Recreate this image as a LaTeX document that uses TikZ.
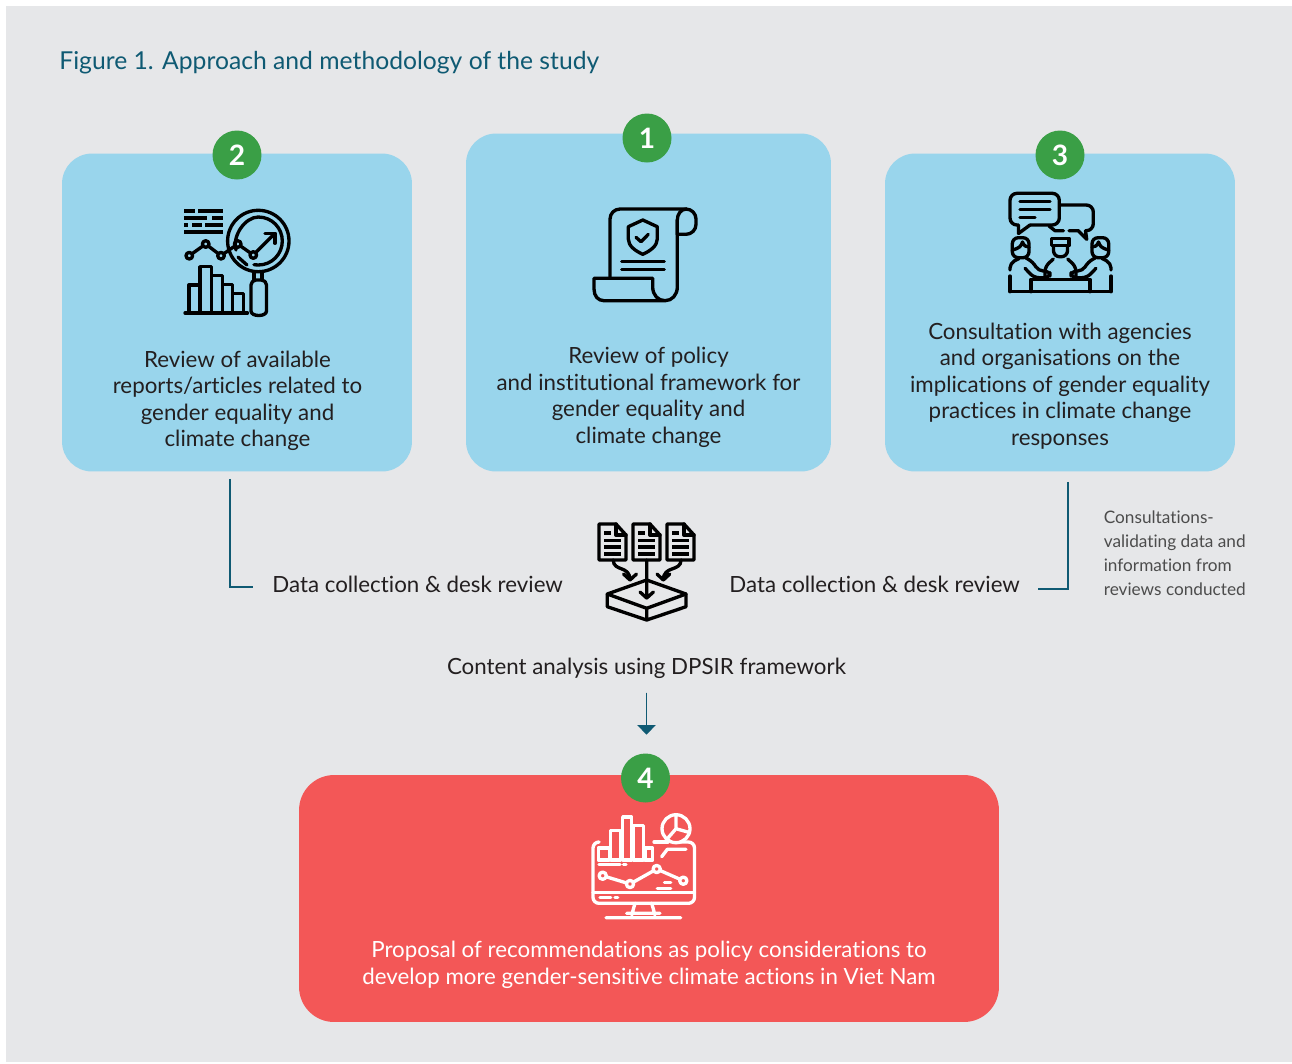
\documentclass[tikz,border=0pt]{standalone}
\usepackage{fontspec}
\setmainfont{Lato}[Ligatures=NoCommon]
\usetikzlibrary{positioning, arrows.meta, calc}
\definecolor{pagegray}{HTML}{E6E7E9}
\definecolor{cardblue}{HTML}{99D5EC}
\definecolor{cardred}{HTML}{F35757}
\definecolor{badgegreen}{HTML}{3A9F46}
\definecolor{teal}{HTML}{0F5A73}
\definecolor{bodytext}{HTML}{231F20}
\tikzset{
    bluecard/.style={fill=cardblue, rounded corners=0.6cm, minimum width=7cm, minimum height=6.36cm, inner sep=0pt},
    badge/.style={circle, fill=badgegreen, minimum size=0.98cm, inner sep=0pt, text=white, font=\fontsize{16}{18}\selectfont\bfseries},
    cardtext/.style={align=center, text=bodytext, font=\fontsize{12.7}{15.1}\selectfont},
    flowtext/.style={text=bodytext, font=\fontsize{12.7}{15.1}\selectfont, inner sep=0pt},
    flowline/.style={draw=teal, line width=0.6pt},
    iconline/.style={line width=1.9pt, line join=round, line cap=round},
}
\begin{document}
\begin{tikzpicture}[x=0.02cm, y=-0.02cm]
    \useasboundingbox (0,0) rectangle (1292,1063);
    \fill [pagegray] (6,6) rectangle (1292,1062);
    \node (title) [anchor=west, inner sep=0pt, text=teal, font=\fontsize{14.05}{17}\selectfont] at (59,63) {Figure 1. Approach and methodology of the study};

    % cards
    \node (card2) [bluecard] at (237,312.5) {};
    \node (card1) [bluecard, minimum width=7.3cm, minimum height=6.76cm] at (648.5,302.5) {};
    \node (card3) [bluecard] at (1060,312.5) {};
    \node (card4) [fill=cardred, rounded corners=0.7cm, minimum width=14cm, minimum height=4.94cm, inner sep=0pt] at (649,898.5) {};

    \node (badge2) [badge] at (237,155) {2};
    \node (badge1) [badge] at (647,138) {1};
    \node (badge3) [badge] at (1060,155) {3};
    \node (badge4) [badge] at (645.5,778) {4};

    \node (text2) [cardtext] at (237.5,401) {Review of available\\reports/articles related to\\gender equality and\\climate change};
    \node (text1) [cardtext] at (648.5,397.5) {Review of policy\\and institutional framework for\\gender equality and\\climate change};
    \node (text3) [cardtext] at (1060,386) {Consultation with agencies\\and organisations on the\\implications of gender equality\\practices in climate change\\responses};
    \node (text4) [cardtext, text=white] at (649,965) {Proposal of recommendations as policy considerations to\\develop more gender-sensitive climate actions in Viet Nam};

    % middle row
    \node (leftlabel) [flowtext, anchor=west] at (272,584) {Data collection \& desk review};
    \node (rightlabel) [flowtext, anchor=west] at (729,584) {Data collection \& desk review};
    \node (sidenote) [anchor=west, align=left, inner sep=0pt, text=black!70, font=\fontsize{9.8}{13.6}\selectfont] at (1103.5,553) {Consultations-\\validating data and\\information from\\reviews conducted};
    \node (analysis) [flowtext] at (646.5,668) {Content analysis using DPSIR framework};

    \draw [flowline] ([xshift=-0.14cm, yshift=-0.14cm]card2.south) |- ([xshift=-0.38cm, yshift=-0.06cm]leftlabel.west);
    \draw [flowline] ([xshift=0.16cm, yshift=-0.2cm]card3.south) |- ([xshift=0.36cm, yshift=-0.1cm]rightlabel.east);
    \draw [flowline, -{Triangle[length=5.5pt, width=10.5pt]}, fill=teal] ([yshift=-0.28cm]analysis.south) -- ([yshift=0.37cm]analysis.south |- badge4.north);

    % icon of card 2
    \foreach \xa/\xb/\ya in {184/195/211, 198/223/211, 184/207/218, 212/223/218, 184/188/225, 192/202/225, 205/223/225, 184/223/232}
        \draw [line width=1.9pt] (\xa,\ya) -- (\xb,\ya);
    \draw [iconline] (189.3,255.7) -- (205.7,244) -- (221,255.7) -- (237.7,244) -- (253.3,255) -- (275,233.3);
    \draw [iconline] (265,233.3) -- (275,233.3) -- (275,243.3);
    \foreach \xa/\ya in {189.3/255.7, 205.7/244, 221/255.7, 237.7/244, 253.3/255}
        \filldraw [iconline, fill=cardblue] (\xa,\ya) circle [radius=3.3];
    \draw [iconline] (258.3,241) circle [radius=30.7];
    \draw [iconline] (236,250) .. controls (232,236) and (245,217) .. (258.3,217) .. controls (272,217) and (282.3,228) .. (282.3,241) .. controls (282.3,254) and (272,265) .. (258.3,265) -- (254,264.7);
    \draw [iconline] (247,265) -- (238,257);
    \draw [iconline] (254,272) -- (254,280) (262,272) -- (262,280);
    \draw [iconline, rounded corners=0.1cm] (251,280) -- (266.5,280) -- (266.5,306) .. controls (266.5,317) and (251,317) .. (251,306) -- cycle;
    \foreach \xa/\xb/\ya in {189/200/285, 200/211.7/266.7, 211.7/222.3/275.7, 222.3/232.7/284.3, 232.7/243.3/293.3}
        \draw [iconline] (\xa,313) rectangle (\xb,\ya);
    \draw [iconline] (185,313) -- (247.5,313);

    % icon of card 1
    \draw [iconline, rounded corners=0.2cm] (610,277.7) -- (610,209) -- (696,209) -- (696,234.3) -- (677.3,234.3);
    \draw [iconline] (677.3,234.3) -- (677.3,220) .. controls (677.3,214) and (681,209) .. (686.7,209);
    \draw [iconline] (677.3,220) -- (677.3,287) .. controls (677.3,295) and (672,300.7) .. (665,300.7) .. controls (658,300.7) and (652.7,295) .. (652.7,287) -- (652.7,278.3) -- (594,278.3) -- (594,289) .. controls (594,296) and (598,300.7) .. (604,300.7) -- (665,300.7);
    \draw [iconline] (642.8,220) -- (657.3,226.7) -- (657.3,239) .. controls (657.3,246) and (650,251) .. (642.8,254.3) .. controls (635.5,251) and (628.3,246) .. (628.3,239) -- (628.3,226.7) -- cycle;
    \draw [iconline] (636,237.3) -- (641,241.7) -- (648.3,234.3);
    \draw [iconline] (621.7,261.7) -- (664.3,261.7) (621.7,269.7) -- (664.3,269.7);

    % icon of card 3
    \draw [iconline, rounded corners=0.14cm] (1018,225) -- (1010,225) -- (1010,193.3) -- (1059.3,193.3) -- (1059.3,225) -- (1030,225);
    \draw [iconline] (1030,225) -- (1018.5,233.5) -- (1018.5,225);
    \draw [iconline] (1020,201.7) -- (1050,201.7) (1020,209.3) -- (1050,209.3) (1020,217.3) -- (1035,217.3);
    \draw [iconline, rounded corners=0.14cm] (1060,205) -- (1093.3,205) -- (1093.3,230.7) -- (1085.5,230.7);
    \draw [iconline] (1085.5,230.7) -- (1086.7,239.3) -- (1078.3,230.7) -- (1069,230.7) (1063.5,230.7) -- (1055,230.7) -- (1049,226);
    % the two outer people are mirror images
    \foreach \sx/\dx in {1/0, -1/2121} {
        \begin{scope}[shift={(\dx,0)}, xscale=\sx]
        \draw [iconline, rounded corners=0.12cm] (1024,257.7) -- (1029,257.7) -- (1029,237.7) -- (1012.3,237.7) -- (1012.3,257.7) -- (1024,257.7);
        \draw [iconline] (1012.3,250) .. controls (1020,248) and (1021,246) .. (1022.5,242) .. controls (1024,246) and (1026,247) .. (1029,247);
        \draw [iconline, rounded corners=0.1cm] (1010,270) -- (1010,263) -- (1019,258.5);
        \draw [iconline, rounded corners=0.1cm] (1026,258) -- (1033,262) -- (1038.3,271) -- (1050,271) -- (1050,277.7) -- (1034,277.7) -- (1025,268.3);
        \draw [iconline, rounded corners=0.1cm] (1045,276) -- (1045,266.7) -- (1053.3,259);
        \draw [iconline] (1010,276) -- (1010,291.7);
        \end{scope}
    }
    \draw [iconline] (1051.7,245.7) -- (1051.7,238.3) -- (1069,238.3) -- (1069,245.7) -- cycle;
    \draw [iconline, rounded corners=0.12cm] (1053.5,246) -- (1053.5,256.7) -- (1067.5,256.7) -- (1067.5,246);
    \draw [iconline] (1010,291.7) -- (1111,291.7) (1031,291.7) -- (1031,279.3) -- (1090,279.3) -- (1090,291.7);

    % icon of the middle row
    \foreach \xa in {599,633,667} {
        \draw [iconline] (\xa,524) -- (\xa+17,524) -- (\xa+27,535) -- (\xa+27,560) -- (\xa,560) -- cycle;
        \draw [iconline] (\xa+17,524) -- (\xa+17,535) -- (\xa+27,535);
        \draw [line width=1.9pt] (\xa+5,533) -- (\xa+12,533) (\xa+5,540.5) -- (\xa+22,540.5) (\xa+5,547) -- (\xa+22,547) (\xa+5,554) -- (\xa+22,554);
    }
    \draw [iconline] (646.7,560) -- (646.7,598) (640,592) -- (646.7,598) -- (653.4,592);
    \draw [iconline] (613.3,560) .. controls (613.3,572) and (630,565) .. (630,580) (623.5,574) -- (630,580) -- (636.5,574);
    \draw [iconline] (681,560) .. controls (681,572) and (663.3,565) .. (663.3,580) (657,574) -- (663.3,580) -- (669.8,574);
    \draw [iconline] (607.3,594) -- (646.7,580) -- (686,594) -- (646.7,608.3) -- cycle;
    \draw [iconline] (607.3,594) -- (607.3,606.7) -- (646.7,620) -- (686,606.7) -- (686,594) (646.7,608.3) -- (646.7,620);

    % icon of card 4
    \begin{scope}[white]
    \draw [iconline, rounded corners=0.12cm] (598,842) -- (593,842) -- (593,903.3) -- (694.5,903.3) -- (694.5,842) -- (680,842);
    \draw [iconline] (654,842) -- (668,842);
    \draw [iconline] (593,892.7) -- (694.5,892.7);
    \foreach \xa/\xb/\ya in {598.3/609.3/848, 610.7/620.7/830.3, 622.7/631.7/817, 633.3/643.3/825.3, 645/652.7/848}
        \draw [iconline] (\xa,860) rectangle (\xb,\ya);
    \draw [iconline] (676,828.7) circle [radius=14];
    \draw [iconline] (676,815) -- (676,828.7) -- (689.5,832.5) (676,828.7) -- (667.5,838.5);
    \draw [iconline] (661.7,856.7) -- (667.3,849.3) -- (686,849.3);
    \draw [iconline] (599,864.5) -- (620,864.5) (623.5,864.5) -- (626,864.5) (600,897.7) -- (610.7,897.7) (615,897.7) -- (617.7,897.7);
    \draw [iconline] (602.7,875.7) -- (630,884) -- (656.7,869) -- (683.3,880.7);
    \foreach \xa/\ya in {602.7/875.7, 630/884, 656.7/869, 683.3/880.7}
        \filldraw [iconline, fill=cardred] (\xa,\ya) circle [radius=3.6];
    \draw [iconline] (664.5,882.3) -- (670.7,882.3) (657.3,888.3) -- (670.7,888.3);
    \draw [iconline] (635,903.3) -- (631.7,915) (651.7,903.3) -- (655,915) (626.7,913.3) -- (660,913.3) (606,917.7) -- (680.7,917.7);
    \end{scope}
\end{tikzpicture}
\end{document}
